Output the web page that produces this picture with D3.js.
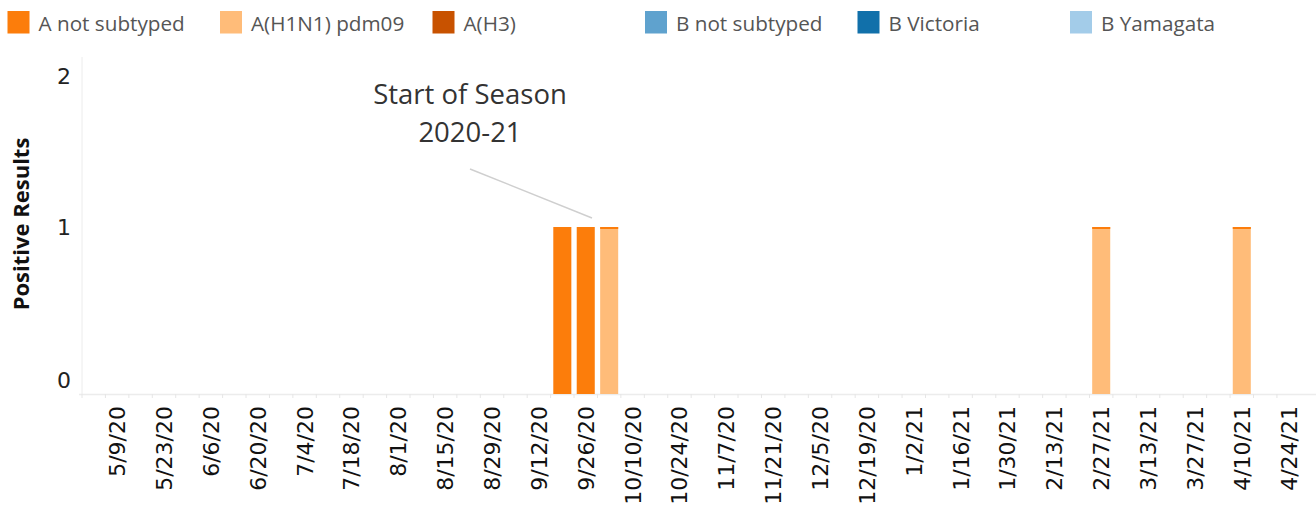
<!DOCTYPE html>
<html><head><meta charset="utf-8">
<script src="https://cdn.jsdelivr.net/npm/d3@7"></script>
<style>
html,body{margin:0;padding:0;background:#fff;}
svg{display:block;}
</style></head>
<body>
<svg id="chart" width="1316" height="510"></svg>
<script>
// ---- data ----
const fmt = d3.timeFormat("%-m/%-d/%y");
const weeks = d3.range(52).map(i => fmt(d3.timeWeek.offset(new Date(2020, 4, 2), i)));
const tickLabels = weeks.filter((d, i) => i % 2 === 1);
const seriesNames = ["A not subtyped", "A(H1N1) pdm09", "A(H3)", "B not subtyped", "B Victoria", "B Yamagata"];
const seriesColors = ["#fc7d0b", "#ffbc79", "#c85200", "#5fa2ce", "#1170aa", "#a3cce9"];
const aNotSubtyped = [["9/19/20", 1], ["9/26/20", 1], ["10/3/20", 0], ["2/27/21", 0], ["4/10/21", 0]];
const aH1N1 = [["10/3/20", 1], ["2/27/21", 1], ["4/10/21", 1]];
const yTicks = [0, 1, 2];
const annotationLines = ["Start of Season", "2020-21"];

// ---- layout ----
const svg = d3.select("#chart");
const plot = {left: 82, right: 1316, top: 57, bottom: 394};
const x = d3.scaleBand().domain(weeks).range([plot.left, plot.left + 52 * 23.43]).paddingInner(0.23).paddingOuter(0.115);
const y = d3.scaleLinear().domain([0, 2]).range([plot.bottom, 60]);

// axes lines
svg.append("line").attr("x1", plot.left).attr("x2", plot.left).attr("y1", plot.top).attr("y2", plot.bottom)
  .attr("stroke", "#ececec").attr("stroke-width", 1);
svg.append("line").attr("x1", plot.left - 3).attr("x2", plot.right).attr("y1", plot.bottom + 0.5).attr("y2", plot.bottom + 0.5)
  .attr("stroke", "#ececec").attr("stroke-width", 1.5);
const step = x.step();
const bounds = weeks.map(w => x(w) - x.paddingInner() * step / 2);
svg.append("g").selectAll("line").data(bounds).join("line")
  .attr("x1", d => d).attr("x2", d => d).attr("y1", plot.bottom).attr("y2", plot.bottom + 4)
  .attr("stroke", "#e6e6e6");

// bars: H1N1 at bottom, A not subtyped stacked above (zero values drawn as a thin line)
const h1Map = new Map(aH1N1);
const minH = 2;
svg.append("g").selectAll("rect").data(aH1N1).join("rect")
  .attr("x", d => x(d[0])).attr("width", x.bandwidth())
  .attr("y", d => y(d[1])).attr("height", d => y(0) - y(d[1]))
  .attr("fill", seriesColors[1]);
svg.append("g").selectAll("rect").data(aNotSubtyped).join("rect")
  .attr("x", d => x(d[0])).attr("width", x.bandwidth())
  .attr("y", d => y((h1Map.get(d[0]) || 0) + d[1]))
  .attr("height", d => Math.max(minH, y(0) - y(d[1])))
  .attr("fill", seriesColors[0]);

// y ticks
svg.append("g").selectAll("text").data(yTicks).join("text")
  .attr("x", 71).attr("y", d => Math.min(388, Math.max(84, y(d) + 8)))
  .attr("text-anchor", "end")
  .attr("font-family", "DejaVu Sans, sans-serif").attr("font-size", 22).attr("fill", "#222")
  .text(d => d);

// y title
svg.append("text").attr("transform", "translate(29,224) rotate(-90)")
  .attr("text-anchor", "middle")
  .attr("font-family", "Open Sans, sans-serif").attr("font-weight", "bold").attr("font-size", 22).attr("fill", "#111")
  .text("Positive Results");

// x tick labels
svg.append("g").selectAll("text").data(tickLabels).join("text")
  .attr("transform", d => `translate(${x(d) + x.bandwidth() / 2 + 8},406) rotate(-90)`)
  .attr("text-anchor", "end")
  .attr("font-family", "DejaVu Sans, sans-serif").attr("font-size", 22).attr("fill", "#111")
  .text(d => d);

// annotation
svg.append("line").attr("x1", 470).attr("y1", 169).attr("x2", 592).attr("y2", 218)
  .attr("stroke", "#cfcfcf").attr("stroke-width", 1.5);
svg.append("g").selectAll("text").data(annotationLines).join("text")
  .attr("x", 470).attr("y", (d, i) => 104 + i * 38)
  .attr("text-anchor", "middle")
  .attr("font-family", "Open Sans, sans-serif").attr("font-size", 27.5).attr("fill", "#333")
  .text(d => d);

// legend
const legendX = [7.5, 220, 432.5, 645, 857.5, 1070];
const lg = svg.append("g").selectAll("g").data(seriesNames).join("g")
  .attr("transform", (d, i) => `translate(${legendX[i]},0)`);
lg.append("rect").attr("x", 0).attr("y", 11).attr("width", 22).attr("height", 22.5)
  .attr("fill", (d, i) => seriesColors[i]);
lg.append("text").attr("x", 31).attr("y", 30.5)
  .attr("font-family", "Open Sans, sans-serif").attr("font-size", 20.7).attr("fill", "#555")
  .text(d => d);
</script>
</body></html>
